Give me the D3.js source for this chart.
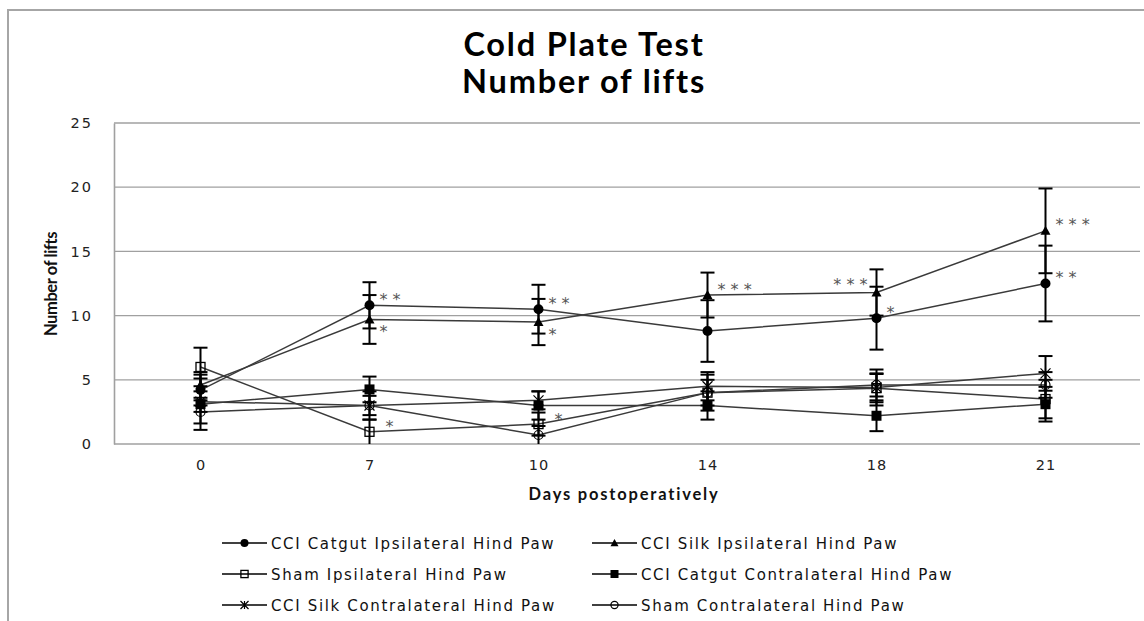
<!DOCTYPE html>
<html>
<head>
<meta charset="utf-8">
<script src="https://cdn.jsdelivr.net/npm/d3@7/dist/d3.min.js"></script>
<style>
  html, body { margin: 0; padding: 0; background: #fff; }
  svg { display: block; }
</style>
</head>
<body>
<svg id="chart" width="1144" height="621"></svg>
<script>
// Cold plate test: number of paw lifts per group over postoperative days
const days = ["0", "7", "10", "14", "18", "21"];
const yTicks = [0, 5, 10, 15, 20, 25];

const seriesNames = [
  "CCI Catgut Ipsilateral Hind Paw",
  "CCI Silk Ipsilateral Hind Paw",
  "Sham Ipsilateral Hind Paw",
  "CCI Catgut Contralateral Hind Paw",
  "CCI Silk Contralateral Hind Paw",
  "Sham Contralateral Hind Paw"
];
const seriesMarkers = ["circleFilled", "triangle", "squareOpen", "squareFilled", "star", "circleOpen"];

const catgutIpsi   = [4.2, 10.8, 10.5, 8.8, 9.8, 12.5];
const silkIpsi     = [4.6, 9.7, 9.5, 11.6, 11.8, 16.6];
const shamIpsi     = [6.0, 0.95, 1.55, 4.0, 4.35, 3.5];
const catgutContra = [3.1, 4.25, 3.0, 3.0, 2.2, 3.1];
const silkContra   = [3.3, 3.0, 3.4, 4.5, 4.4, 5.5];
const shamContra   = [2.5, 3.0, 0.7, 4.0, 4.6, 4.6];

const catgutIpsiErr   = [1.2, 1.8, 1.9, 2.4, 2.45, 2.95];
const silkIpsiErr     = [1.0, 1.9, 1.8, 1.75, 1.8, 3.3];
const shamIpsiErr     = [1.5, 0.95, 0.9, 1.4, 1.1, 1.5];
const catgutContraErr = [2.0, 1.0, 1.1, 1.1, 1.2, 1.35];
const silkContraErr   = [0.8, 0.75, 0.7, 1.1, 1.4, 1.35];
const shamContraErr   = [0.9, 1.1, 0.7, 1.0, 0.9, 1.0];

// significance marks: series index, day, label, placement
const sigSeries = [0, 1, 0, 1, 1, 1, 0, 1, 0, 2, 2];
const sigDay    = ["7", "7", "10", "10", "14", "18", "18", "21", "21", "7", "10"];
const sigText   = ["**", "*", "**", "*", "***", "***", "*", "***", "**", "*", "*"];
const sigPlace  = ["above", "below", "above", "below", "above", "left", "above", "above", "above", "aboveFar", "aboveFar"];

const values = [catgutIpsi, silkIpsi, shamIpsi, catgutContra, silkContra, shamContra];
const errors = [catgutIpsiErr, silkIpsiErr, shamIpsiErr, catgutContraErr, silkContraErr, shamContraErr];

const series = seriesNames.map((name, i) => ({
  name,
  marker: seriesMarkers[i],
  points: days.map((d, j) => ({ day: d, v: values[i][j], e: errors[i][j] }))
}));

const svg = d3.select("#chart");
const W = 1144, H = 621;
const plot = { left: 114, right: 1140, top: 123, bottom: 444 };

svg.append("rect").attr("width", W).attr("height", H).attr("fill", "#fff");

// outer chart frame
svg.append("path")
  .attr("d", `M8,${H} L8,10 L${W},10`)
  .attr("fill", "none").attr("stroke", "#a6a6a6").attr("stroke-width", 2);

const x = d3.scalePoint().domain(days).range([116, 1130]).padding(0.5);
const y = d3.scaleLinear().domain([0, 25]).range([plot.bottom, plot.top]);

// horizontal gridlines
svg.append("g").selectAll("line").data(yTicks).join("line")
  .attr("x1", plot.left).attr("x2", plot.right)
  .attr("y1", d => y(d)).attr("y2", d => y(d))
  .attr("stroke", "#a0a0a0").attr("stroke-width", 1.3);

// y axis
const yAxis = svg.append("g")
  .attr("transform", `translate(${plot.left},0)`)
  .call(d3.axisLeft(y).tickValues(yTicks).tickSize(0).tickPadding(21));
yAxis.select(".domain").attr("stroke", "#a0a0a0").attr("stroke-width", 1.6);
yAxis.selectAll("text")
  .attr("font-family", "DejaVu Sans, Verdana, sans-serif")
  .attr("font-size", 14.5).attr("letter-spacing", 2).attr("fill", "#222");

// x axis
const xAxis = svg.append("g")
  .attr("transform", `translate(0,${plot.bottom})`)
  .call(d3.axisBottom(x).tickSize(0).tickPadding(16));
xAxis.select(".domain").remove();
xAxis.selectAll("text")
  .attr("font-family", "DejaVu Sans, Verdana, sans-serif")
  .attr("font-size", 14.5).attr("letter-spacing", 1).attr("fill", "#222");

// axis titles
svg.append("text")
  .attr("x", 624).attr("y", 500)
  .attr("text-anchor", "middle")
  .attr("font-family", "Lato, sans-serif").attr("font-weight", "bold")
  .attr("font-size", 16.5).attr("letter-spacing", 1.8).attr("fill", "#111")
  .text("Days postoperatively");

svg.append("text")
  .attr("transform", "translate(57,284) rotate(-90)")
  .attr("text-anchor", "middle")
  .attr("font-family", "Lato, sans-serif").attr("font-weight", "bold")
  .attr("font-size", 16.5).attr("fill", "#111")
  .attr("letter-spacing", -0.4)
  .text("Number of lifts");

// title
const title = svg.append("text")
  .attr("text-anchor", "middle")
  .attr("font-family", "Lato, sans-serif").attr("font-weight", "bold")
  .attr("font-size", 32.5).attr("letter-spacing", 1.8).attr("fill", "#000");
title.append("tspan").attr("x", 584).attr("y", 56).text("Cold Plate Test");
title.append("tspan").attr("x", 584).attr("y", 93).text("Number of lifts");

// marker drawing
function drawMarker(g, type, s) {
  const h = s / 2;
  switch (type) {
    case "circleFilled":
      g.append("circle").attr("r", h).attr("fill", "#000");
      break;
    case "circleOpen":
      g.append("circle").attr("r", h * 0.9).attr("fill", "none").attr("stroke", "#000").attr("stroke-width", 1.2);
      break;
    case "triangle":
      g.append("path").attr("d", `M0,${-h} L${h},${h * 0.8} L${-h},${h * 0.8} Z`).attr("fill", "#000");
      break;
    case "squareFilled":
      g.append("rect").attr("x", -h).attr("y", -h).attr("width", s).attr("height", s).attr("fill", "#000");
      break;
    case "squareOpen":
      g.append("rect").attr("x", -h * 0.9).attr("y", -h * 0.9).attr("width", s * 0.9).attr("height", s * 0.9)
        .attr("fill", "none").attr("stroke", "#000").attr("stroke-width", 1.3);
      break;
    case "star":
      g.append("path").attr("d", `M${-h},${-h} L${h},${h} M${-h},${h} L${h},${-h} M0,${-h} L0,${h}`)
        .attr("stroke", "#000").attr("stroke-width", 1.2).attr("fill", "none");
      break;
  }
}

const line = d3.line().x(d => x(d.day)).y(d => y(d.v));

// connecting lines
svg.append("g").selectAll("path").data(series).join("path")
  .attr("d", d => line(d.points))
  .attr("fill", "none").attr("stroke", "#3a3a3a").attr("stroke-width", 1.5);

// error bars
const capW = 7;
series.forEach(s => {
  const g = svg.append("g").attr("stroke", "#000").attr("stroke-width", 2);
  s.points.forEach(p => {
    const cx = x(p.day), top = y(p.v + p.e), bot = y(Math.max(0, p.v - p.e));
    g.append("line").attr("x1", cx).attr("x2", cx).attr("y1", top).attr("y2", bot);
    g.append("line").attr("x1", cx - capW).attr("x2", cx + capW).attr("y1", top).attr("y2", top);
    if (p.v - p.e > 0) {
      g.append("line").attr("x1", cx - capW).attr("x2", cx + capW).attr("y1", bot).attr("y2", bot);
    }
  });
});

// markers
series.forEach(s => {
  s.points.forEach(p => {
    const g = svg.append("g").attr("transform", `translate(${x(p.day)},${y(p.v)})`);
    drawMarker(g, s.marker, 10);
  });
});

// significance labels (offsets give the visual centre of the asterisks)
const sigOffsets = {
  above: [10, -10],
  below: [10, 8],
  left: [-9, -12],
  aboveFar: [16, -9]
};
sigText.forEach((t, i) => {
  const s = series[sigSeries[i]];
  const p = s.points.find(q => q.day === sigDay[i]);
  const off = sigOffsets[sigPlace[i]];
  svg.append("text")
    .attr("x", x(p.day) + off[0])
    .attr("y", y(p.v) + off[1] + 9.5)
    .attr("text-anchor", sigPlace[i] === "left" ? "end" : "start")
    .attr("font-family", "DejaVu Sans, sans-serif")
    .attr("font-size", 16).attr("fill", "#555")
    .text(t.split("").join(" "));
});

// legend
const legend = svg.append("g");
const colX = [222, 592];
const rowY = [543, 574, 605];
series.forEach((s, i) => {
  const cx = colX[i % 2], cy = rowY[Math.floor(i / 2)];
  const g = legend.append("g").attr("transform", `translate(${cx},${cy})`);
  g.append("line").attr("x1", 0).attr("x2", 45).attr("y1", 0).attr("y2", 0)
    .attr("stroke", "#000").attr("stroke-width", 1.5);
  const m = g.append("g").attr("transform", "translate(22.5,0)");
  drawMarker(m, s.marker, 8);
  g.append("text").attr("x", 49).attr("y", 5.5)
    .attr("font-family", "DejaVu Sans, sans-serif")
    .attr("font-size", 15).attr("letter-spacing", 1.65).attr("fill", "#111")
    .text(s.name);
});
</script>
</body>
</html>
